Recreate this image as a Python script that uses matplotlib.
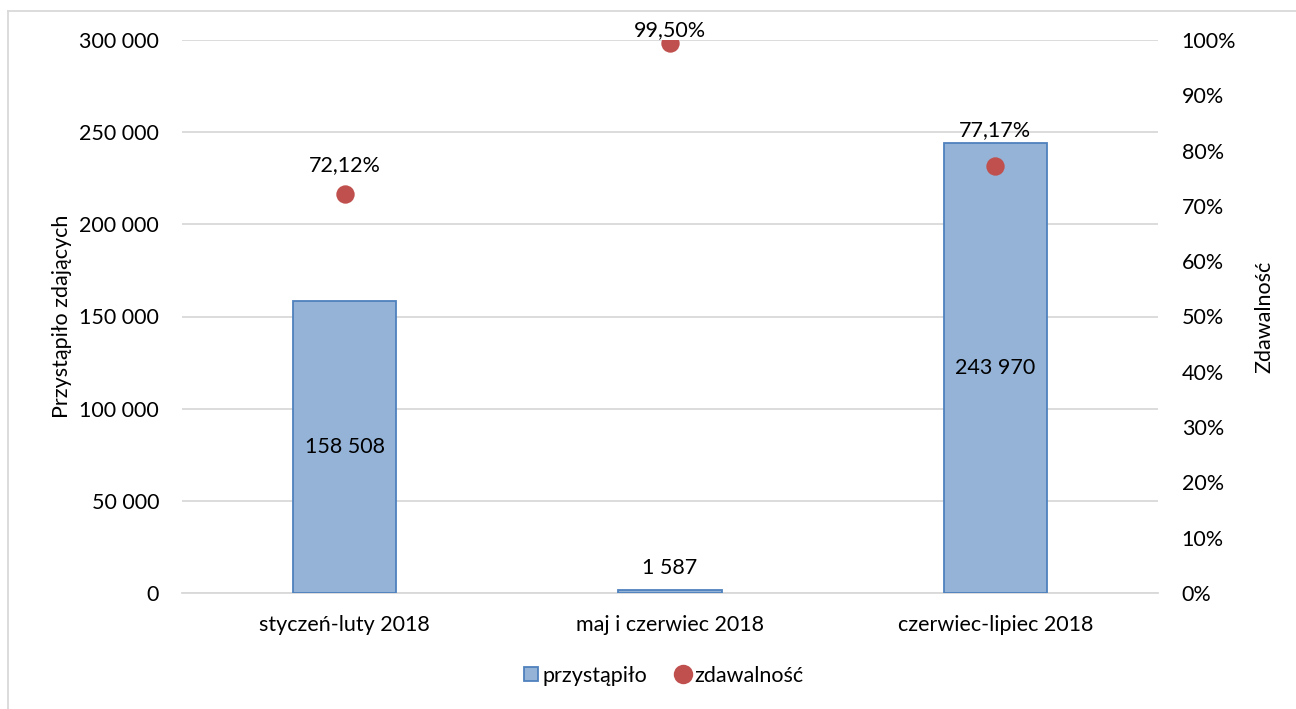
import numpy as np
import matplotlib
matplotlib.use("Agg")
import matplotlib.pyplot as plt
from matplotlib.lines import Line2D

plt.rcParams['font.family'] = ['Lato', 'DejaVu Sans']

# data
categories = ['styczeń-luty 2018', 'maj i czerwiec 2018', 'czerwiec-lipiec 2018']
przystapilo = [158508, 1587, 243970]
zdawalnosc = [72.12, 99.50, 77.17]

bar_color = '#95B3D7'
edge_color = '#4F81BD'
dot_color = '#C0504D'
grid_color = '#D9D9D9'
fs = 15.5

def fmt_num(v):
    return '{:,}'.format(int(v)).replace(',', ' ')

def fmt_pct(v):
    return '{:.2f}%'.format(v).replace('.', ',')

fig = plt.figure(figsize=(12.96, 7.09), dpi=100)
ax = fig.add_axes([182/1296, 1-593/709, (1158-182)/1296, (593-40)/709])
ax2 = ax.twinx()

x = np.arange(len(categories))
bars = ax.bar(x, przystapilo, width=0.317, color=bar_color, edgecolor=edge_color,
              linewidth=1.3, zorder=3)

ax.set_xlim(-0.5, 2.5)
ax.set_ylim(0, 300000)
ax.set_yticks(np.arange(0, 300001, 50000))
ax.set_yticklabels([fmt_num(v) for v in np.arange(0, 300001, 50000)], fontsize=fs)
ax.yaxis.grid(True, color=grid_color, linewidth=1.3, zorder=0)
ax.set_axisbelow(True)
ax.set_xticks(x)
ax.set_xticklabels(categories, fontsize=fs)
ax.tick_params(axis='both', length=0)
ax.tick_params(axis='y', pad=16.5)
ax.tick_params(axis='x', pad=16)
for s in ['top', 'right', 'left']:
    ax.spines[s].set_visible(False)
ax.spines['bottom'].set_color(grid_color)
ax.spines['bottom'].set_linewidth(1.3)
ax.set_ylabel('Przystąpiło zdających', fontsize=fs, labelpad=5.5)

# bar value labels: inside when tall, above when small
for i, v in enumerate(przystapilo):
    if v > 20000:
        ax.text(x[i], v / 2, fmt_num(v), ha='center', va='center', fontsize=fs, zorder=5)
    else:
        ax.annotate(fmt_num(v), (x[i], v), xytext=(0, 16), textcoords='offset points',
                    ha='center', va='center', fontsize=fs)

ax2.set_ylim(0, 100)
ax2.set_yticks(np.arange(0, 101, 10))
ax2.set_yticklabels(['{}%'.format(v) for v in range(0, 101, 10)], fontsize=fs)
ax2.tick_params(axis='y', length=0, pad=17)
for s in ['top', 'right', 'left', 'bottom']:
    ax2.spines[s].set_visible(False)
ax2.scatter(x, zdawalnosc, s=175, color=dot_color, zorder=4, linewidths=0)
ax2.set_ylabel('Zdawalność', fontsize=fs, rotation=90, labelpad=13)

label_offsets = [21, 9, 26]
for i, v in enumerate(zdawalnosc):
    ax2.annotate(fmt_pct(v), (x[i], v), xytext=(0, label_offsets[i]), textcoords='offset points',
                 ha='center', va='center', fontsize=fs, zorder=6)

handles = [
    Line2D([], [], marker='s', linestyle='none', markersize=9.5, markerfacecolor=bar_color,
           markeredgecolor=edge_color, markeredgewidth=1.3),
    Line2D([], [], marker='o', linestyle='none', markersize=14, markerfacecolor=dot_color,
           markeredgewidth=0),
]
fig.legend(handles, ['przystąpiło', 'zdawalność'], loc='center', bbox_to_anchor=(0.511, 0.0465),
           ncol=2, frameon=False, fontsize=fs, handletextpad=0.1, columnspacing=1.2,
           handlelength=0.9)

# chart border (left and top edges visible)
fig.add_artist(Line2D([7.5/1296, 7.5/1296], [0, 1-11/709], color=grid_color, linewidth=1.3))
fig.add_artist(Line2D([7.5/1296, 1], [1-11/709, 1-11/709], color=grid_color, linewidth=1.3))

fig.savefig('out.png', dpi=100)
